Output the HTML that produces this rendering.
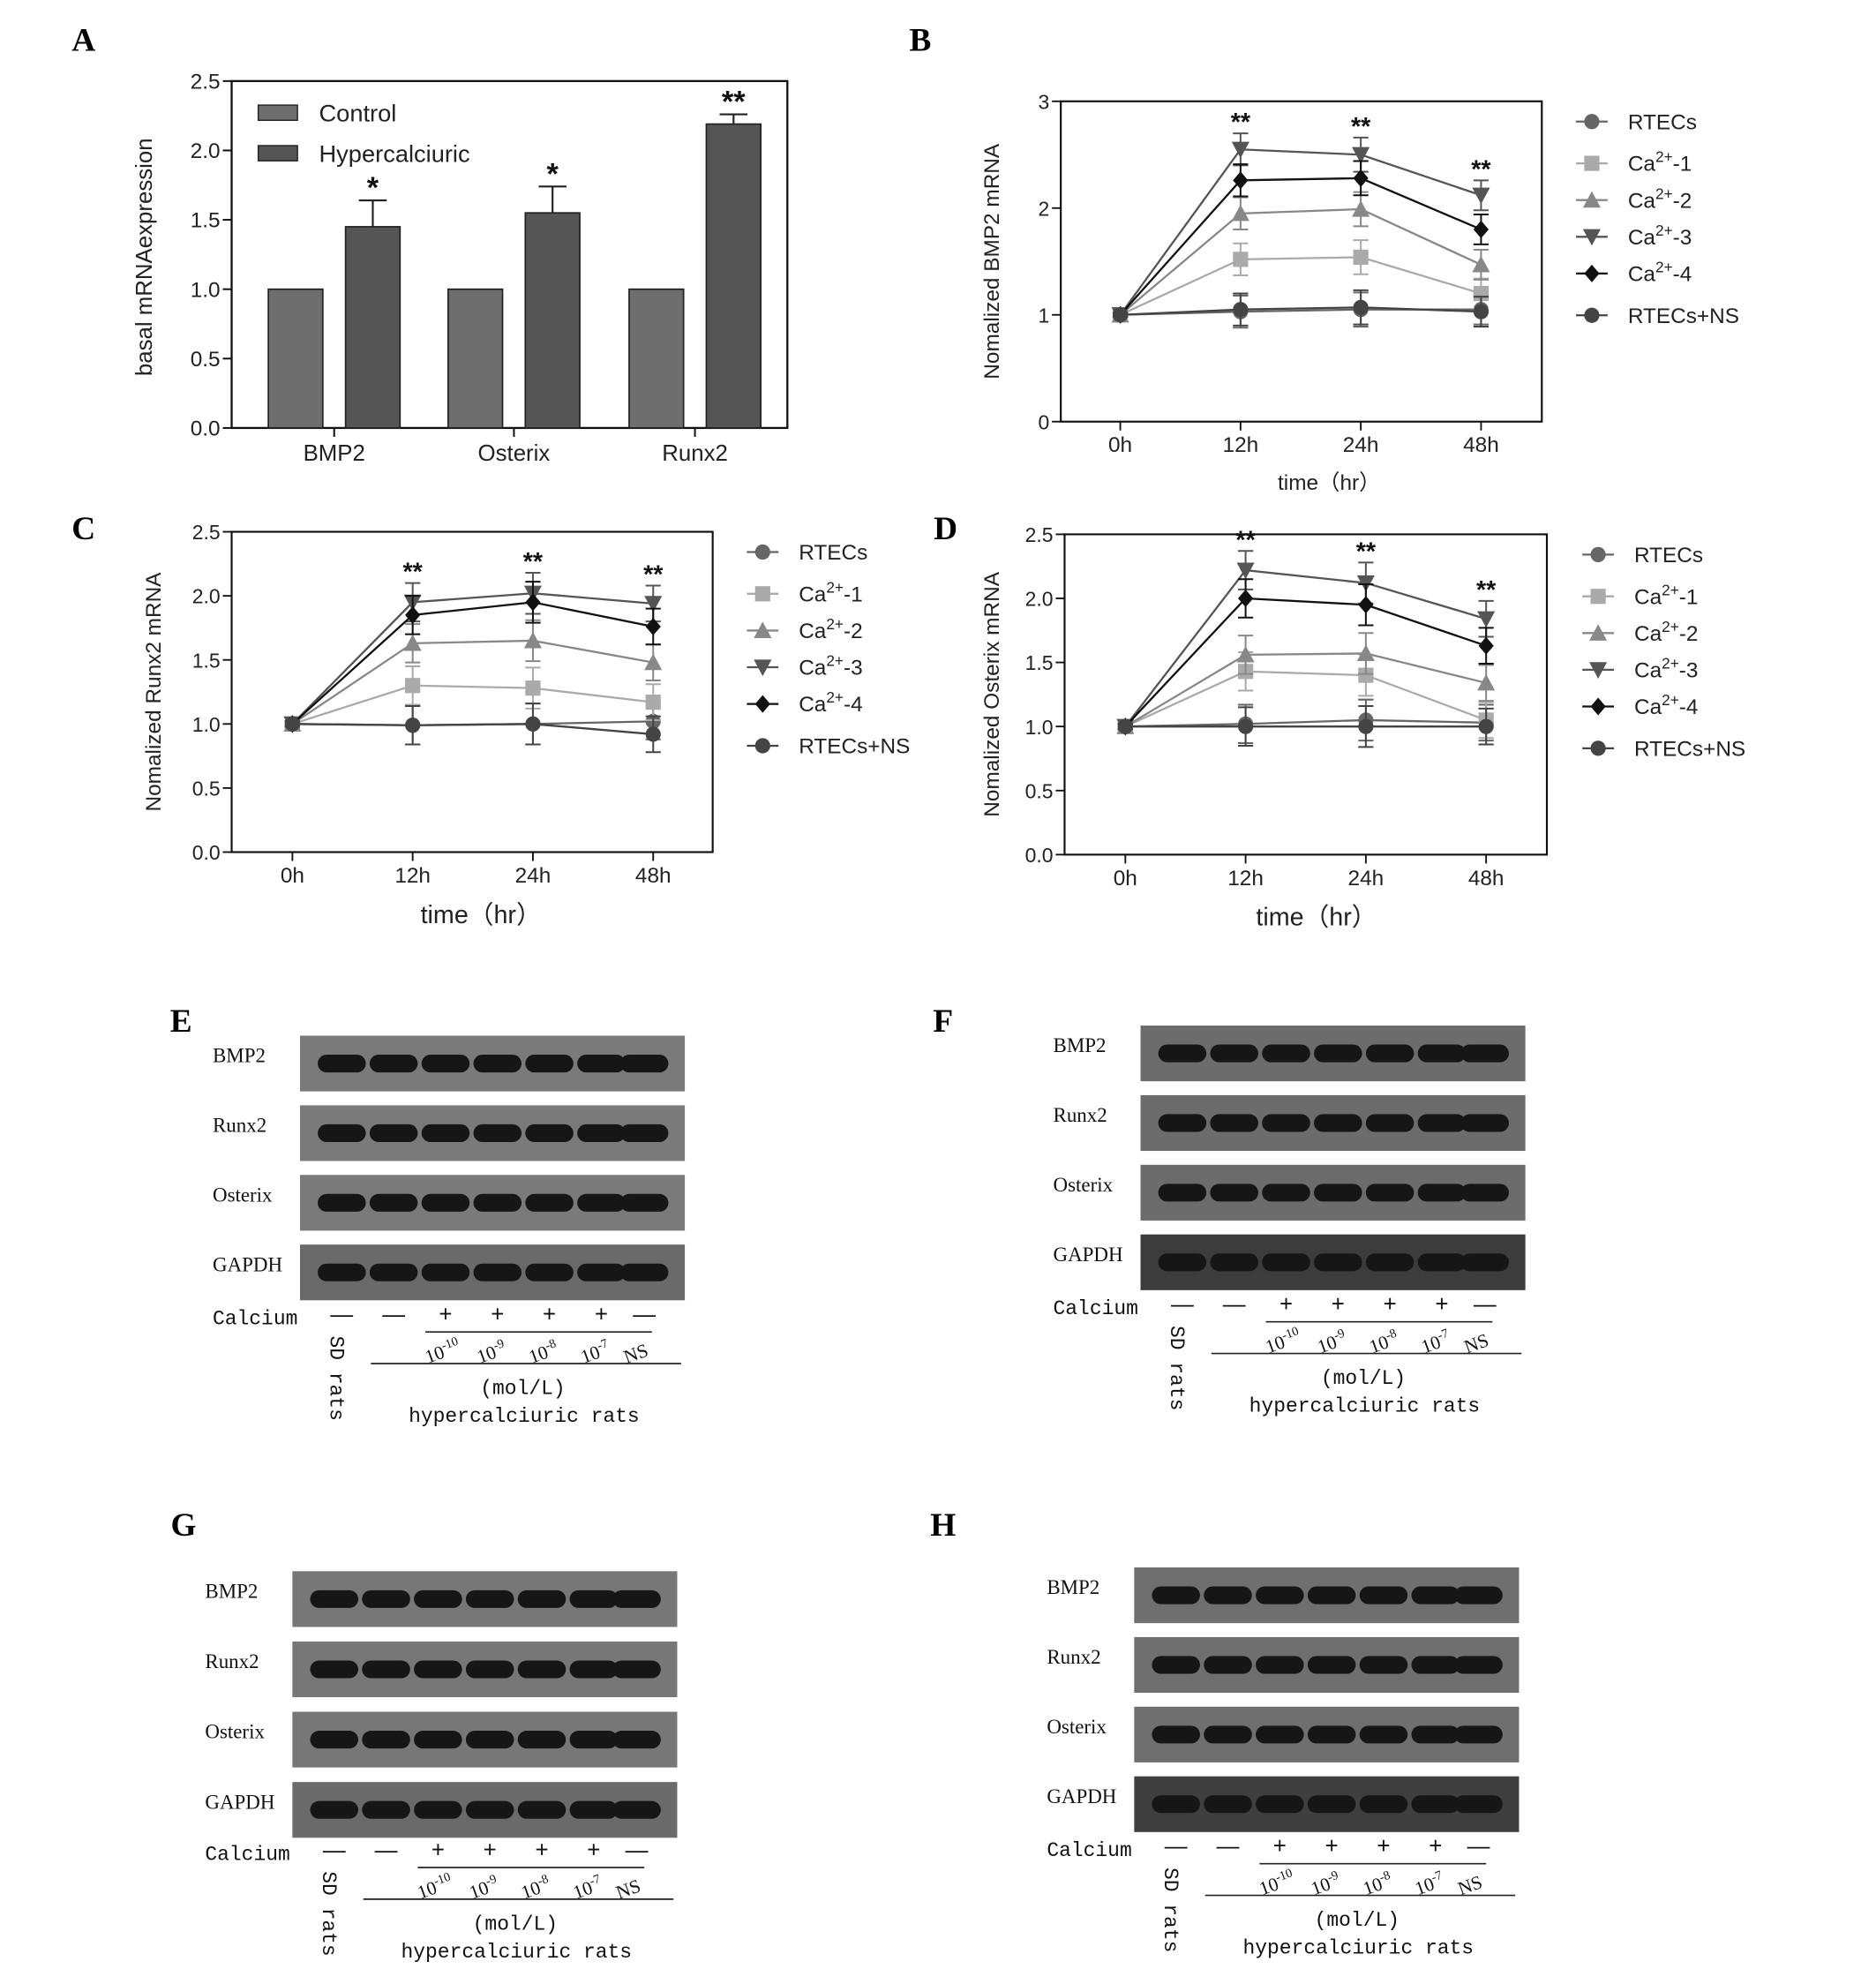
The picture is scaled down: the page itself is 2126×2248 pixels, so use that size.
<!DOCTYPE html>
<html><head><meta charset="utf-8">
<style>
html,body{margin:0;padding:0;background:#fff;}
svg{display:block;}
text{font-family:"Liberation Sans",sans-serif;}
.serif{font-family:"Liberation Serif","Noto Serif CJK SC",serif;}
.mono{font-family:"Liberation Mono","Noto Sans CJK SC",monospace;}
</style></head>
<body>
<svg id="fig" width="2126" height="2248" viewBox="0 0 1482 1567" xmlns="http://www.w3.org/2000/svg">
<g id="root"></g>
</svg>
<script>
// ---------- Panel A data ----------
const barCategories = ["BMP2","Osterix","Runx2"];
const controlValues = [1,1,1];
const hyperValues = [1.45,1.55,2.19];
const hyperErrors = [0.19,0.19,0.07];
const hyperStars = ["*","*","**"];
const barTicks = [0,0.5,1.0,1.5,2.0,2.5];

// ---------- Time course ----------
const timeLabels = ["0h","12h","24h","48h"];
const seriesNames = ["RTECs","Ca-1","Ca-2","Ca-3","Ca-4","RTECs+NS"];
const bmp2RTECs = [1,1.03,1.05,1.05];
const bmp2Ca1 = [1,1.52,1.54,1.2];
const bmp2Ca2 = [1,1.95,1.99,1.47];
const bmp2Ca3 = [1,2.55,2.5,2.12];
const bmp2Ca4 = [1,2.26,2.28,1.8];
const bmp2NS = [1,1.05,1.07,1.03];
const runx2RTECs = [1,0.99,1.0,1.02];
const runx2Ca1 = [1,1.3,1.28,1.17];
const runx2Ca2 = [1,1.63,1.65,1.48];
const runx2Ca3 = [1,1.95,2.02,1.94];
const runx2Ca4 = [1,1.85,1.95,1.76];
const runx2NS = [1,0.99,1.0,0.92];
const osxRTECs = [1,1.02,1.05,1.03];
const osxCa1 = [1,1.43,1.4,1.05];
const osxCa2 = [1,1.56,1.57,1.34];
const osxCa3 = [1,2.22,2.12,1.84];
const osxCa4 = [1,2.0,1.95,1.63];
const osxNS = [1,1.0,1.0,1.0];
const errSizes = [0.02,0.15,0.16,0.14];
const bmp2Ticks = [0,1,2,3];
const runxTicks = [0,0.5,1.0,1.5,2.0,2.5];

const NS="http://www.w3.org/2000/svg";
const root=document.getElementById('root');
function el(tag,attrs,parent,txt){const e=document.createElementNS(NS,tag);for(const k in attrs)e.setAttribute(k,attrs[k]);if(txt!==undefined)e.textContent=txt;(parent||root).appendChild(e);return e;}
function grp(name){const g=el('g',{});return g;}

const letters=[["A",66,40],["B",727,40],["C",66,426],["D",747,426],["E",143,815],["F",745,815],["G",145,1213],["H",745,1213]];
letters.forEach(l=>{const t=el('text',{x:l[1],y:l[2],'font-size':26,'font-weight':'bold','text-anchor':'middle',class:'serif'},root,l[0]);
});

// ---------- Panel A ----------
(function(){
 const g=grp('bar-chart-a');
 const x0=183,x1=622,yb=338,yt=64,ymax=2.5;
 const Y=v=>yb-(v/ymax)*(yb-yt);
 const cx=[264,406,549];
 el('rect',{x:x0,y:yt,width:x1-x0,height:yb-yt,fill:'none',stroke:'#111','stroke-width':1.6},g);
 barTicks.forEach(t=>{el('line',{x1:x0-7,x2:x0,y1:Y(t),y2:Y(t),stroke:'#111','stroke-width':1.4},g);
  el('text',{x:x0-9,y:Y(t)+6,'font-size':17,'text-anchor':'end',fill:'#222'},g,t.toFixed(1));});
 barCategories.forEach((c,i)=>{
  el('line',{x1:cx[i],x2:cx[i],y1:yb,y2:yb+7,stroke:'#111','stroke-width':1.4},g);
  el('text',{x:cx[i],y:yb+26,'font-size':18,'text-anchor':'middle',fill:'#222'},g,c);
  const b1=el('rect',{x:cx[i]-52,y:Y(controlValues[i]),width:43,height:yb-Y(controlValues[i]),fill:'#6e6e6e',stroke:'#222','stroke-width':1.2},g);
  
  const b2=el('rect',{x:cx[i]+9,y:Y(hyperValues[i]),width:43,height:yb-Y(hyperValues[i]),fill:'#555',stroke:'#222','stroke-width':1.2},g);
  
  const ex=cx[i]+30.5,et=Y(hyperValues[i]+hyperErrors[i]);
  el('line',{x1:ex,x2:ex,y1:Y(hyperValues[i]),y2:et,stroke:'#222','stroke-width':1.5},g);
  el('line',{x1:ex-11,x2:ex+11,y1:et,y2:et,stroke:'#222','stroke-width':1.5},g);
  el('text',{x:ex,y:et-2,'font-size':24,'font-weight':'bold','text-anchor':'middle',fill:'#111'},g,hyperStars[i]);
 });
 const lg=grp('legend-a');g.appendChild(lg);
 el('rect',{x:204,y:83,width:31,height:12,fill:'#6e6e6e',stroke:'#222'},lg);
 el('text',{x:252,y:96,'font-size':19,fill:'#222'},lg,'Control');
 el('rect',{x:204,y:115,width:31,height:12,fill:'#555',stroke:'#222'},lg);
 el('text',{x:252,y:128,'font-size':19,fill:'#222'},lg,'Hypercalciuric');
 el('text',{x:0,y:0,'font-size':18,'text-anchor':'middle',fill:'#222',transform:'translate(120,203) rotate(-90)'},g,'basal mRNAexpression');
})();

// ---------- Line charts ----------
const styles=[{c:'#666',m:'circle'},{c:'#aaa',m:'square'},{c:'#888',m:'up'},{c:'#555',m:'down'},{c:'#111',m:'diamond'},{c:'#444',m:'circle'}];
function marker(g,m,x,y,c,r){
 if(m==='circle')el('circle',{cx:x,cy:y,r:r,fill:c},g);
 else if(m==='square')el('rect',{x:x-r,y:y-r,width:2*r,height:2*r,fill:c},g);
 else if(m==='up')el('polygon',{points:`${x},${y-r-1} ${x-r-1},${y+r} ${x+r+1},${y+r}`,fill:c},g);
 else if(m==='down')el('polygon',{points:`${x},${y+r+1} ${x-r-1},${y-r} ${x+r+1},${y-r}`,fill:c},g);
 else el('polygon',{points:`${x},${y-r-1} ${x+r},${y} ${x},${y+r+1} ${x-r},${y}`,fill:c},g);
}
function lineChart(o){
 const g=grp(o.name);
 const {x0,x1,yt,yb,ymax,xs}=o;
 const Y=v=>yb-(v/ymax)*(yb-yt);
 el('rect',{x:x0,y:yt,width:x1-x0,height:yb-yt,fill:'none',stroke:'#111','stroke-width':1.5},g);
 o.ticks.forEach(t=>{el('line',{x1:x0-7,x2:x0,y1:Y(t),y2:Y(t),stroke:'#111','stroke-width':1.3},g);
  el('text',{x:x0-9,y:Y(t)+6,'font-size':16,'text-anchor':'end',fill:'#222'},g,o.fmt(t));});
 timeLabels.forEach((l,i)=>{el('line',{x1:xs[i],x2:xs[i],y1:yb,y2:yb+7,stroke:'#111','stroke-width':1.3},g);
  el('text',{x:xs[i],y:yb+24,'font-size':17,'text-anchor':'middle',fill:'#222'},g,l);});
 el('text',{x:o.xlx,y:o.xly,'font-size':o.xlf,'text-anchor':'middle',fill:'#222'},g,'time（hr）');
 el('text',{x:0,y:0,'font-size':17,'text-anchor':'middle',fill:'#222',transform:`translate(${o.ylx},${(yt+yb)/2}) rotate(-90)`},g,o.ylabel);
 o.series.forEach((s,si)=>{
  const sg=grp('series-'+seriesNames[si].toLowerCase().replace(/\+/g,'-'));g.appendChild(sg);
  const st=styles[si];
  el('polyline',{points:s.map((v,i)=>xs[i]+','+Y(v)).join(' '),fill:'none',stroke:st.c,'stroke-width':1.6},sg);
  s.forEach((v,i)=>{const e=errSizes[i];
   el('line',{x1:xs[i],x2:xs[i],y1:Y(v-e),y2:Y(v+e),stroke:st.c,'stroke-width':1.4},sg);
   [v-e,v+e].forEach(w=>el('line',{x1:xs[i]-6,x2:xs[i]+6,y1:Y(w),y2:Y(w),stroke:st.c,'stroke-width':1.4},sg));
   marker(sg,st.m,xs[i],Y(v),st.c,6);});
 });
 const top=[1,2,3].map(i=>Math.max(...o.series.map(s=>s[i]))+errSizes[i]);
 [1,2,3].forEach((i,k)=>el('text',{x:xs[i],y:Y(top[k])-2,'font-size':20,'font-weight':'bold','text-anchor':'middle',fill:'#111'},g,'**'));
 const lg=grp('legend-'+o.name);g.appendChild(lg);
 o.ly.forEach((y,i)=>{const st=styles[i];
  el('line',{x1:o.lx,x2:o.lx+25,y1:y,y2:y,stroke:st.c,'stroke-width':1.6},lg);
  marker(lg,st.m,o.lx+12.5,y,st.c,6);
  const t=el('text',{x:o.lx+41,y:y+6,'font-size':17,fill:'#222'},lg);
  if(i>=1&&i<=4){t.appendChild(document.createTextNode('Ca'));const s=el('tspan',{dy:-7,'font-size':12},t,'2+');el('tspan',{dy:7},t,'-'+i);}
  else t.textContent=i===0?'RTECs':(o.clip?'RTECs+N\u0405':'RTECs+NS');
 });
 return g;
}
lineChart({name:'line-chart-b',x0:838,x1:1218,yt:80,yb:333,ymax:3,xs:[885,980,1075,1170],ticks:bmp2Ticks,fmt:t=>String(t),
 series:[bmp2RTECs,bmp2Ca1,bmp2Ca2,bmp2Ca3,bmp2Ca4,bmp2NS],ylabel:'Nomalized BMP2 mRNA',ylx:789,xlx:1050,xly:387,xlf:17,
 lx:1245,ly:[96,129,158,187,216,249]});
lineChart({name:'line-chart-c',x0:183,x1:563,yt:420,yb:673,ymax:2.5,xs:[231,326,421,516],ticks:runxTicks,fmt:t=>t.toFixed(1),
 series:[runx2RTECs,runx2Ca1,runx2Ca2,runx2Ca3,runx2Ca4,runx2NS],ylabel:'Nomalized Runx2 mRNA',ylx:127,xlx:380,xly:729,xlf:20,
 lx:590,ly:[436,469,498,527,556,589],clip:true});
lineChart({name:'line-chart-d',x0:841,x1:1222,yt:422,yb:675,ymax:2.5,xs:[889,984,1079,1174],ticks:runxTicks,fmt:t=>t.toFixed(1),
 series:[osxRTECs,osxCa1,osxCa2,osxCa3,osxCa4,osxNS],ylabel:'Nomalized Osterix mRNA',ylx:789,xlx:1040,xly:731,xlf:20,
 lx:1250,ly:[438,471,500,529,558,591]});

// ---------- Western blots ----------
const blotRows=["BMP2","Runx2","Osterix","GAPDH"];
const calcSigns=["—","—","+","+","+","+","—"];
const concLabels=[["10","-10"],["10","-9"],["10","-8"],["10","-7"],["NS",""]];
function blot(name,L,T,pitch,bg,gBg){
 const g=grp(name);
 const lanes=[33,74,115,156,197,238,272];
 blotRows.forEach((r,i)=>{
  const y=T+i*pitch;
  el('text',{x:L-69,y:y+21,'font-size':16,fill:'#111',class:'serif'},g,r);
  el('rect',{x:L,y:y,width:304,height:44,fill:i===3?gBg:bg},g);
  lanes.forEach((lx,j)=>el('rect',{x:L+lx-19,y:y+15,width:38,height:14,rx:7,fill:'#161616'},g));
 });
 const cy=T+223;
 el('text',{x:L-69,y:cy+5,'font-size':16,fill:'#111',class:'mono'},g,'Calcium');
 calcSigns.forEach((s,j)=>el('text',{x:L+lanes[j],y:cy+3,'font-size':18,'text-anchor':'middle',fill:'#111'},g,s));
 el('line',{x1:L+99,x2:L+278,y1:cy+11,y2:cy+11,stroke:'#222','stroke-width':1.2},g);
 concLabels.forEach((c,k)=>{const t=el('text',{x:0,y:0,'font-size':15,fill:'#111',class:'serif',transform:`translate(${L+lanes[k+2]-14},${cy+36}) rotate(-20)`},g);
  t.appendChild(document.createTextNode(c[0]));if(c[1])el('tspan',{dy:-6,'font-size':10},t,c[1]);});
 el('line',{x1:L+56,x2:L+301,y1:cy+36,y2:cy+36,stroke:'#222','stroke-width':1.2},g);
 el('text',{x:L+176,y:cy+60,'font-size':16,'text-anchor':'middle',fill:'#111',class:'mono'},g,'(mol/L)');
 el('text',{x:L+177,y:cy+82,'font-size':16,'text-anchor':'middle',fill:'#111',class:'mono'},g,'hypercalciuric rats');
 el('text',{x:0,y:0,'font-size':16,fill:'#111',class:'mono',transform:`translate(${L+24},${cy+14}) rotate(90)`},g,'SD rats');
}
blot('western-blot-e',237,818,55,'#7a7a7a','#6a6a6a');
blot('western-blot-f',901,810,55,'#6c6c6c','#3c3c3c');
blot('western-blot-g',231,1241,55.5,'#777','#6a6a6a');
blot('western-blot-h',896,1238,55,'#6f6f6f','#3f3f3f');
</script>
</body></html>
